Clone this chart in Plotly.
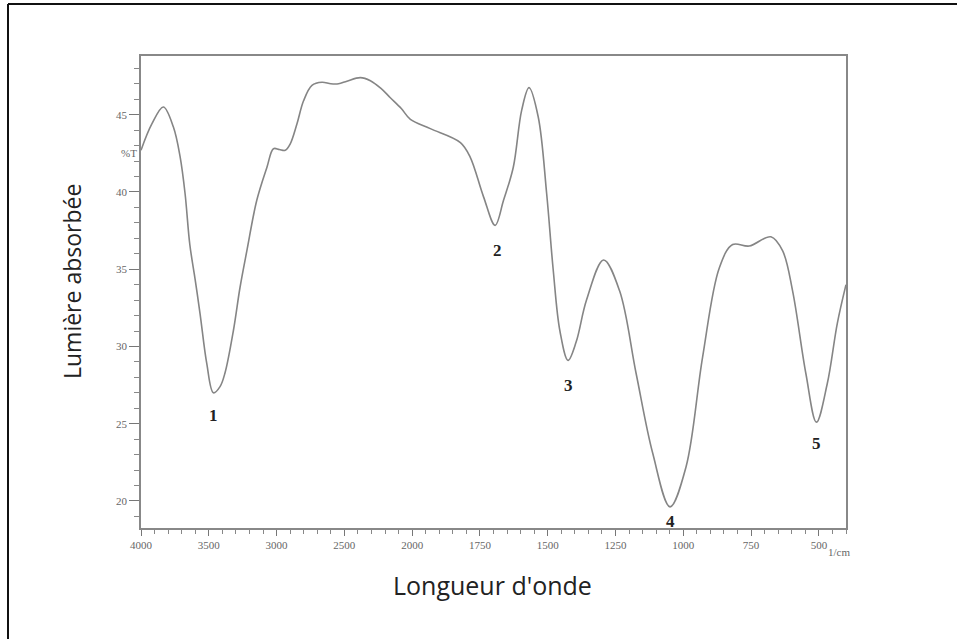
import plotly.graph_objects as go

# ---- data ----
wavenumber = [4000, 3920, 3835, 3761, 3712, 3675, 3640, 3600, 3564, 3515, 3466, 3417, 3380, 3318,
              3270, 3219, 3146, 3071, 3023, 2980, 2936, 2900, 2850, 2801, 2739, 2665, 2600,
              2543, 2481, 2382, 2308, 2230, 2161, 2080, 2013, 1933, 1822, 1786, 1737, 1694, 1663,
              1627, 1596, 1569, 1535, 1504, 1480, 1455, 1425, 1395, 1357, 1294,
              1235, 1174, 1113, 1049, 990, 929, 867, 818, 757, 677, 634, 597, 548, 509,
              469, 432, 400]
transmittance = [42.7, 44.4, 45.5, 44.2, 42.3, 39.9, 36.6, 34.3, 32.1, 28.9, 27.0, 27.4, 28.3, 31.05,
                 33.8, 36.2, 39.46, 41.6, 42.8, 42.75, 42.7, 43.1, 44.4, 45.9, 46.9, 47.1, 47.0,
                 47.0, 47.17, 47.4, 47.2, 46.7, 46.1, 45.4, 44.7, 44.1, 43.2, 42.26, 39.7, 37.84, 39.46,
                 41.6, 45.3, 46.75, 44.85, 39.9, 35.0, 31.0, 29.1, 30.3, 33.0, 35.6,
                 33.6, 28.25, 23.1, 19.62, 22.2, 29.3, 35.1, 36.6, 36.5, 37.1, 36.2, 33.6,
                 28.25, 25.1, 27.6, 31.5, 34.0]

tick_wavenumbers = [4000, 3500, 3000, 2500, 2000, 1750, 1500, 1250, 1000, 750, 500]
tick_labels = ["4000", "3500", "3000", "2500", "2000", "1750", "1500", "1250", "1000", "750", "500"]

peak_labels = ["1", "2", "3", "4", "5"]
peak_wavenumbers = [3468, 1686, 1422, 1049, 510]
peak_label_y = [25.55, 36.22, 27.49, 18.7, 23.74]


# spectrometer axis: scale doubles below 2000 1/cm
def to_axis(w):
    return w if w <= 2000 else 2000 + (w - 2000) / 2


x_axis = [to_axis(w) for w in wavenumber]

fig = go.Figure()
fig.add_trace(go.Scatter(
    x=x_axis, y=transmittance, mode="lines",
    line=dict(color="#858585", width=1.6, shape="spline", smoothing=1.0),
    hoverinfo="skip", showlegend=False,
))

for lab, w, yv in zip(peak_labels, peak_wavenumbers, peak_label_y):
    fig.add_annotation(x=to_axis(w), y=yv, xref="x", yref="y", text="<b>%s</b>" % lab,
                       xanchor="center", yanchor="middle",
                       showarrow=False, font=dict(family="Liberation Serif", size=17, color="#222"))

tick_font = dict(family="Liberation Serif", size=11, color="#666")

fig.update_xaxes(
    range=[to_axis(4000), to_axis(400)],
    tickvals=[to_axis(w) for w in tick_wavenumbers], ticktext=tick_labels,
    ticks="outside", ticklen=6, tickwidth=1, tickcolor="#777",
    minor=dict(ticks="outside", ticklen=4, tickcolor="#888", dtick=50, tick0=400, showgrid=False),
    showline=True, linecolor="#888", linewidth=1.5, mirror=True,
    showgrid=False, zeroline=False, tickfont=tick_font,
)
fig.update_yaxes(
    range=[18.25, 48.8],
    tickvals=[20, 25, 30, 35, 40, 45],
    ticks="outside", ticklen=10, tickwidth=1, tickcolor="#777",
    minor=dict(ticks="outside", ticklen=5, tickcolor="#888", dtick=1, tick0=0, showgrid=False),
    showline=True, linecolor="#888", linewidth=1.5, mirror=True,
    showgrid=False, zeroline=False, tickfont=tick_font,
)

W, H = 957, 639
L, R, T, B = 141, 846, 56, 528


def px(xp):
    return (xp - L) / (R - L)


def py(yp):
    return (B - yp) / (B - T)


fig.add_annotation(x=px(139), y=py(153), xref="paper", yref="paper", text="%T",
                   xanchor="right", yanchor="middle", showarrow=False,
                   font=dict(family="Liberation Serif", size=11, color="#666"))
fig.add_annotation(x=px(826), y=py(552), xref="paper", yref="paper", text="1/cm",
                   xanchor="left", yanchor="middle", showarrow=False,
                   font=dict(family="Liberation Serif", size=11, color="#666"))
fig.add_annotation(x=px(492), y=py(585), xref="paper", yref="paper", text="Longueur d'onde",
                   xanchor="center", yanchor="middle", showarrow=False,
                   font=dict(family="Open Sans", size=25, color="#222"))
fig.add_annotation(x=px(72), y=py(282), xref="paper", yref="paper", text="Lumière absorbée",
                   textangle=-90, xanchor="center", yanchor="middle", showarrow=False,
                   font=dict(family="Open Sans", size=23, color="#222"))

# outer frame (left and top edges)
fig.add_shape(type="line", xref="paper", yref="paper", x0=px(8), y0=py(4), x1=px(8), y1=py(645),
              line=dict(color="#111", width=2))
fig.add_shape(type="line", xref="paper", yref="paper", x0=px(8), y0=py(4), x1=px(960), y1=py(4),
              line=dict(color="#111", width=2))

fig.update_layout(
    width=W, height=H,
    margin=dict(l=L, r=W - R, t=T, b=H - B),
    paper_bgcolor="white", plot_bgcolor="white",
    showlegend=False,
)

fig.write_html("out.html", config={"displayModeBar": False},
               post_script="document.body.style.margin='0';document.body.style.overflow='hidden';")
